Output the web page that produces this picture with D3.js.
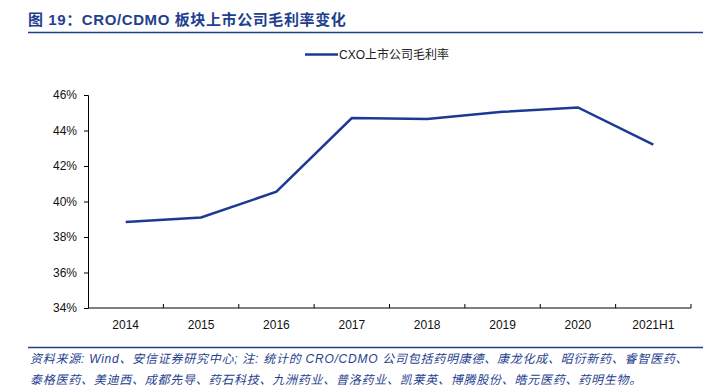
<!DOCTYPE html>
<html>
<head>
<meta charset="utf-8">
<script src="https://cdn.jsdelivr.net/npm/d3@7"></script>
<style>
  body { margin: 0; background: #fff; }
  svg { display: block; }
</style>
</head>
<body>
<script>
// chart data
var categories = ["2014", "2015", "2016", "2017", "2018", "2019", "2020", "2021H1"];
var margins = [38.85, 39.1, 40.55, 44.7, 44.65, 45.05, 45.3, 43.2];
var yTicks = [34, 36, 38, 40, 42, 44, 46];
var seriesName = "CXO上市公司毛利率";

var W = 703, H = 392;
var blue = "#1c3a94";
var textBlue = "#1f3f8f";

var svg = d3.select("body").append("svg")
    .attr("width", W)
    .attr("height", H)
    .style("font-family", "Liberation Sans, Arial, sans-serif");

// title
svg.append("text")
    .attr("x", 28).attr("y", 25)
    .attr("fill", textBlue)
    .attr("font-size", "15px")
    .attr("font-weight", "bold")
    .style("font-family", "Liberation Sans, 'Noto Sans CJK SC', sans-serif")
    .style("letter-spacing", "0.6px")
    .text("图 19：CRO/CDMO 板块上市公司毛利率变化");

svg.append("line")
    .attr("x1", 28).attr("x2", W).attr("y1", 32.5).attr("y2", 32.5)
    .attr("stroke", textBlue).attr("stroke-width", 1.5);

var plotL = 88, plotR = 691, plotT = 95, plotB = 308;

var x = d3.scaleBand().domain(categories).range([plotL, plotR]);
var y = d3.scaleLinear().domain([34, 46]).range([plotB, plotT]);

// x axis (ticks at band boundaries, pointing up)
var gx = svg.append("g").attr("transform", "translate(0," + plotB + ")");
gx.append("line").attr("x1", plotL).attr("x2", plotR).attr("stroke", "#000");
gx.selectAll(".tk").data(categories).enter().append("line")
    .attr("class", "tk")
    .attr("x1", function(d) { return x(d) + x.bandwidth(); })
    .attr("x2", function(d) { return x(d) + x.bandwidth(); })
    .attr("y1", 0).attr("y2", -4)
    .attr("stroke", "#000");
gx.selectAll("text").data(categories).enter().append("text")
    .attr("x", function(d) { return x(d) + x.bandwidth() / 2; })
    .attr("y", 21)
    .attr("text-anchor", "middle")
    .attr("font-size", "12px")
    .attr("fill", "#111")
    .text(function(d) { return d; });

// y axis
var gy = svg.append("g").attr("transform", "translate(" + plotL + ",0)")
    .call(d3.axisLeft(y).tickValues(yTicks).tickSize(4).tickPadding(7)
        .tickFormat(function(d) { return d + "%"; }));
gy.selectAll("text").attr("font-size", "12px").attr("fill", "#111")
    .style("font-family", "Liberation Sans, Arial, sans-serif");

// line
var line = d3.line()
    .x(function(d, i) { return x(categories[i]) + x.bandwidth() / 2; })
    .y(function(d) { return y(d); });

svg.append("path")
    .datum(margins)
    .attr("d", line)
    .attr("fill", "none")
    .attr("stroke", blue)
    .attr("stroke-width", 2.5);

// legend
svg.append("line")
    .attr("x1", 305).attr("x2", 338).attr("y1", 54.5).attr("y2", 54.5)
    .attr("stroke", blue).attr("stroke-width", 2.5);
svg.append("text")
    .attr("x", 339).attr("y", 59)
    .attr("font-size", "12px")
    .attr("fill", "#222")
    .style("font-family", "Liberation Sans, 'Noto Sans CJK SC', sans-serif")
    .text(seriesName);

// footer
svg.append("line")
    .attr("x1", 28).attr("x2", W).attr("y1", 347.5).attr("y2", 347.5)
    .attr("stroke", textBlue).attr("stroke-width", 1.5);

var notes = [
    "资料来源: Wind、安信证券研究中心; 注: 统计的 CRO/CDMO 公司包括药明康德、康龙化成、昭衍新药、睿智医药、",
    "泰格医药、美迪西、成都先导、药石科技、九洲药业、普洛药业、凯莱英、博腾股份、皓元医药、药明生物。"
];
svg.selectAll(".note").data(notes).enter().append("text")
    .attr("class", "note")
    .attr("x", 30)
    .attr("y", function(d, i) { return 363 + i * 21; })
    .attr("font-size", "12px")
    .attr("font-style", "italic")
    .attr("fill", textBlue)
    .style("letter-spacing", "0.75px")
    .style("font-family", "Liberation Sans, 'Noto Sans CJK SC', sans-serif")
    .text(function(d) { return d; });
</script>
</body>
</html>
